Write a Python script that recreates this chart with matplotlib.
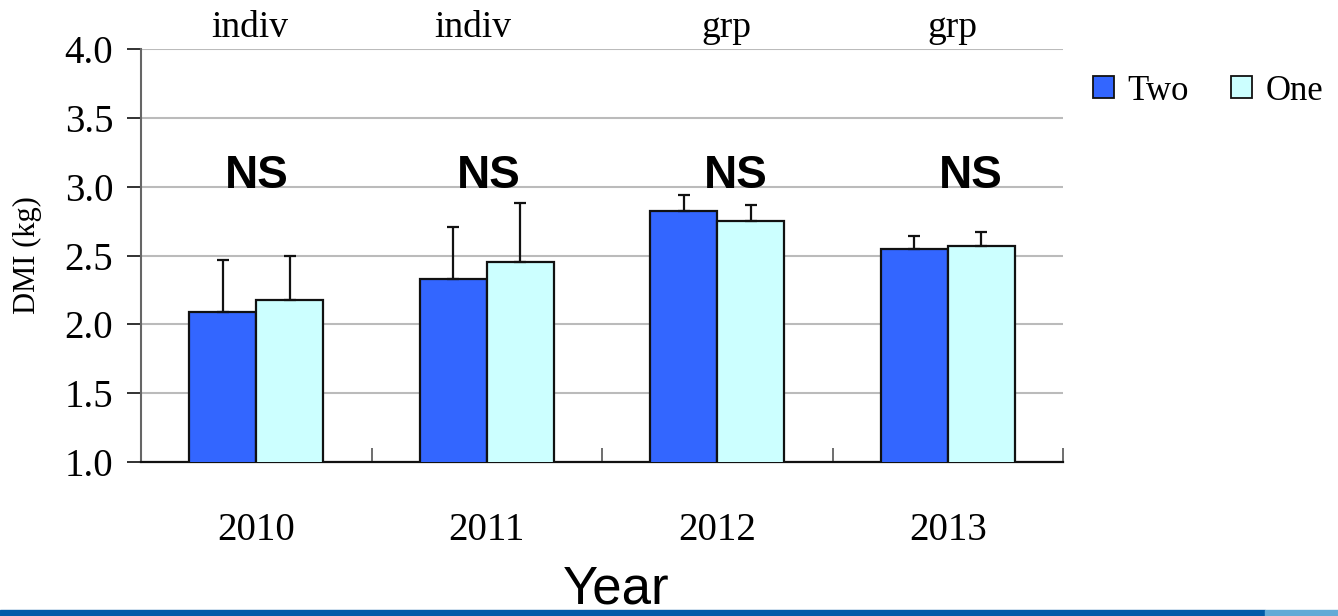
import matplotlib
matplotlib.use('Agg')
import matplotlib.pyplot as plt
import matplotlib.transforms as mtransforms
from matplotlib.patches import Patch, Rectangle
import numpy as np

years = ['2010', '2011', '2012', '2013']
housing = ['indiv', 'indiv', 'grp', 'grp']
two_dmi = [2.09, 2.33, 2.82, 2.55]
two_err = [0.38, 0.38, 0.12, 0.09]
one_dmi = [2.18, 2.45, 2.75, 2.57]
one_err = [0.32, 0.43, 0.12, 0.10]
sig = ['NS', 'NS', 'NS', 'NS']

serif = ['Liberation Serif', 'DejaVu Serif']
sans = ['Liberation Sans', 'DejaVu Sans']

fig = plt.figure(figsize=(13.38, 6.16), dpi=100)
ax = fig.add_axes([141/1338, 1 - 462/616, 922/1338, 413/616])

x = np.arange(len(years))
w = 0.29
ebar = dict(ecolor='#111111', elinewidth=1.6, capsize=4.5, capthick=1.6)
ax.bar(x - w/2, two_dmi, w, color='#3366FF', edgecolor='#111111', linewidth=1.6,
       yerr=[np.zeros(4), two_err], error_kw=ebar, zorder=3)
ax.bar(x + w/2, one_dmi, w, color='#CCFFFF', edgecolor='#111111', linewidth=1.6,
       yerr=[np.zeros(4), one_err], error_kw=ebar, zorder=3)

ax.set_xlim(-0.5, 3.5)
ax.set_ylim(1.0, 4.0)
ax.set_yticks(np.arange(1.0, 4.01, 0.5))
ax.set_yticklabels(['%.1f' % v for v in np.arange(1.0, 4.01, 0.5)], family=serif, fontsize=28)
ax.grid(axis='y', color='#BBBBBB', linewidth=1.5, zorder=0)
ax.tick_params(axis='y', direction='out', length=10, width=1.3, color='#222222', pad=10)

# category boundaries carry the ticks, labels sit at the centres
ax.set_xticks([-0.5, 0.5, 1.5, 2.5, 3.5])
ax.set_xticklabels([])
ax.set_xticks(x, minor=True)
ax.set_xticklabels(years, minor=True, family=serif, fontsize=28)
ax.tick_params(axis='x', which='major', direction='in', length=10, width=1.2, color='#555555')
ax.tick_params(axis='x', which='minor', length=0, pad=36)

for s in ['top', 'right']:
    ax.spines[s].set_visible(False)
ax.spines['left'].set_color('#666666')
ax.spines['left'].set_linewidth(1.5)
ax.spines['bottom'].set_color('#111111')
ax.spines['bottom'].set_linewidth(1.6)

ax.set_ylabel('DMI (kg)', family=serif, fontsize=22, labelpad=16)

top = mtransforms.blended_transform_factory(ax.transData, ax.transAxes)
lab_x = [-0.03, 0.94, 2.04, 3.02]
for xi, h in zip(lab_x, housing):
    ax.text(xi, 1.03, h, transform=top, ha='center', va='baseline', family=serif, fontsize=27)

ns_x = [0.0, 1.01, 2.08, 3.10]
for xi, s in zip(ns_x, sig):
    ax.text(xi, 2.99, s, ha='center', va='baseline', family=sans, fontsize=33, fontweight='bold', zorder=4)

handles = [Patch(facecolor='#3366FF', edgecolor='#111111', linewidth=1.3),
           Patch(facecolor='#CCFFFF', edgecolor='#111111', linewidth=1.3)]
fig.legend(handles, ['Two', 'One'], loc='center left', bbox_to_anchor=(1079/1338, 1 - 91/616),
           ncol=2, frameon=False, prop={'family': serif, 'size': 25},
           handlelength=0.6, handleheight=0.6, handletextpad=0.4, columnspacing=1.2, borderaxespad=0)

# band along the bottom edge
fig.add_artist(Rectangle((0, 0), 1265/1338, 6/616, transform=fig.transFigure, color='#005AA8', zorder=1))
fig.add_artist(Rectangle((1265/1338, 0), 73/1338, 6/616, transform=fig.transFigure, color='#62AAD6', zorder=1))

fig.text(616/1338, 0.002, 'Year', ha='center', va='bottom',
         family=['Liberation Sans Narrow', 'Liberation Sans'], fontsize=38, zorder=5)

fig.savefig('out.png', dpi=100)
